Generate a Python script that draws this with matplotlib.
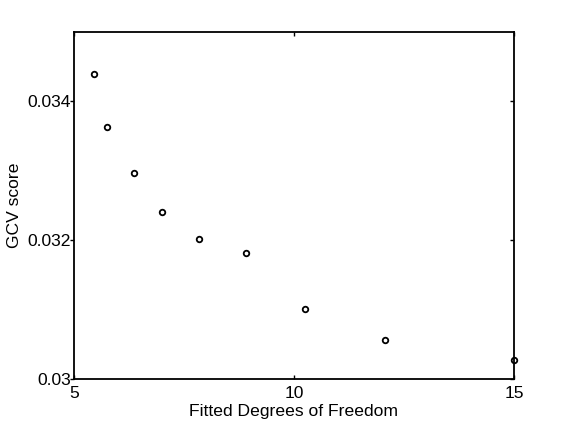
import matplotlib
matplotlib.use('Agg')
import matplotlib.pyplot as plt

plt.rcParams['font.family'] = ['Liberation Sans', 'DejaVu Sans']

dof = [5.46, 5.76, 6.36, 7.01, 7.84, 8.90, 10.24, 12.07, 15.0]
gcv = [0.034390, 0.033630, 0.032975, 0.032405, 0.032016, 0.031820,
       0.031006, 0.030562, 0.030268]

xticks = [5, 10, 15]
yticks = [0.030, 0.032, 0.034]
yticklabels = ['0.03', '0.032', '0.034']

fs = 12.6

fig = plt.figure(figsize=(5.68, 4.26), dpi=100)
ax = fig.add_axes([0.1303, 0.1103, 0.7746, 0.8145])

ax.plot(dof, gcv, 'o', color='black', markerfacecolor='none',
        markersize=4, markeredgewidth=1.3, clip_on=False)

ax.set_xlim(5, 15)
ax.set_ylim(0.03, 0.035)
ax.set_xticks(xticks)
ax.set_xticklabels([str(t) for t in xticks])
ax.set_yticks(yticks)
ax.set_yticklabels(yticklabels)

for s in ax.spines.values():
    s.set_linewidth(1.3)

ax.tick_params(axis='x', direction='in', top=True, length=3, width=1, labelsize=fs, pad=5)
ax.tick_params(axis='y', direction='in', right=True, length=3, width=1, labelsize=fs, pad=2)
# left ticks stick out of the box like in the original
for t in ax.yaxis.get_major_ticks():
    t.tick1line.set_marker(matplotlib.lines.TICKLEFT)

ax.set_xlabel('Fitted Degrees of Freedom', fontsize=fs, labelpad=2)
ax.set_ylabel('GCV score', fontsize=fs, labelpad=4)

fig.savefig('out.png', dpi=100)
